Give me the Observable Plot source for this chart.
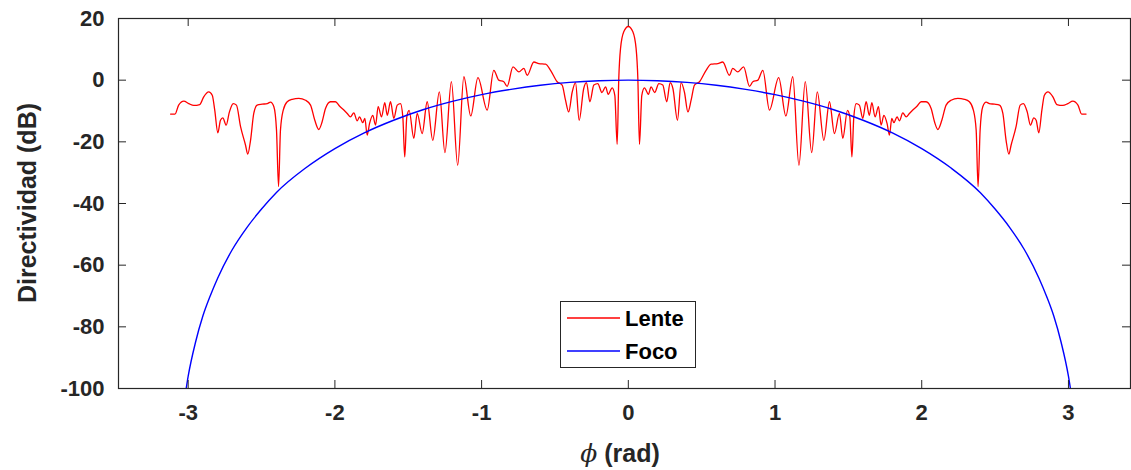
<!DOCTYPE html>
<html>
<head>
<meta charset="utf-8">
<script src="https://cdn.jsdelivr.net/npm/d3@7"></script>
<script src="https://cdn.jsdelivr.net/npm/@observablehq/plot@0.6"></script>
<style>
  html, body { margin: 0; padding: 0; background: #fff; }
  svg { display: block; }
</style>
</head>
<body>
<div id="chart"></div>
<script>
// ---- Data ----
const xTicks = [-3, -2, -1, 0, 1, 2, 3];
const yTicks = [-100, -80, -60, -40, -20, 0, 20];

// "Lente" (red) – angle in rad
const lentePhi = [
  -3.12,-3.09,-3.065,-3.03,-2.996,-2.962,-2.921,-2.894,-2.86,-2.836,-2.819,-2.798,-2.78,-2.764,-2.741,-2.719,-2.693,-2.671,-2.643,-2.609,
  -2.594,-2.575,-2.553,-2.53,-2.496,-2.461,-2.439,-2.416,-2.398,-2.384,-2.371,-2.352,-2.325,-2.291,-2.246,-2.2,-2.166,-2.137,-2.11,-2.087,
  -2.064,-2.03,-1.996,-1.969,-1.939,-1.916,-1.894,-1.871,-1.848,-1.832,-1.81,-1.796,-1.78,-1.764,-1.742,-1.723,-1.705,-1.682,-1.66,-1.643,
  -1.621,-1.598,-1.575,-1.553,-1.537,-1.524,-1.51,-1.494,-1.462,-1.439,-1.405,-1.371,-1.333,-1.288,-1.25,-1.206,-1.163,-1.121,-1.074,-1.025,
  -0.962,-0.917,-0.883,-0.849,-0.826,-0.786,-0.746,-0.712,-0.689,-0.644,-0.61,-0.564,-0.53,-0.485,-0.451,-0.428,-0.406,-0.383,-0.36,-0.335,
  -0.304,-0.285,-0.262,-0.235,-0.208,-0.18,-0.155,-0.137,-0.11,-0.092,-0.076,-0.065,-0.053,-0.031,
  0,
  0.031,0.053,0.065,0.076,0.092,0.11,0.137,0.155,0.18,0.208,0.235,0.262,0.285,0.304,0.335,0.36,0.383,0.406,0.428,0.451,
  0.485,0.53,0.564,0.61,0.644,0.689,0.712,0.746,0.786,0.826,0.849,0.883,0.917,0.962,1.025,1.074,1.121,1.163,1.206,1.25,
  1.288,1.333,1.371,1.405,1.439,1.462,1.494,1.51,1.524,1.537,1.553,1.575,1.598,1.621,1.643,1.66,1.682,1.705,1.723,1.742,
  1.764,1.78,1.796,1.81,1.832,1.848,1.871,1.894,1.916,1.939,1.969,1.996,2.03,2.064,2.087,2.11,2.137,2.166,2.2,2.246,
  2.291,2.325,2.352,2.371,2.384,2.398,2.416,2.439,2.461,2.496,2.53,2.553,2.575,2.594,2.609,2.643,2.671,2.693,2.719,2.741,
  2.764,2.78,2.798,2.819,2.836,2.86,2.894,2.921,2.962,2.996,3.03,3.065,3.09,3.12
];
// "Lente" (red) – directivity in dB
const lenteDb = [
  -11.0,-11.0,-8.1,-6.8,-7.6,-8.2,-7.9,-5.4,-3.8,-4.9,-9.7,-17.1,-13.0,-12.2,-14.6,-10.3,-7.6,-8.1,-15.1,-21.1,
  -24.0,-19.5,-10.8,-8.1,-7.8,-7.6,-7.1,-8.6,-16.2,-34.5,-16.2,-9.7,-7.0,-6.2,-5.9,-6.5,-8.1,-13.0,-16.0,-13.5,
  -9.2,-7.0,-7.0,-8.4,-9.7,-10.8,-11.9,-10.6,-13.2,-11.9,-13.8,-12.4,-17.8,-14.1,-11.4,-14.6,-8.6,-11.9,-7.3,-11.4,
  -7.0,-12.4,-8.1,-7.6,-11.9,-24.9,-12.0,-9.8,-18.9,-10.8,-17.3,-7.0,-19.5,-3.8,-23.5,-0.5,-27.6,1.1,-11.6,0.8,
  -9.7,3.2,0.0,-0.5,-2.0,4.3,2.7,3.8,1.6,5.9,5.4,5.2,3.2,-0.5,-1.6,-6.5,-10.3,-4.0,-0.8,-13.0,
  -2.7,-0.8,-7.0,-1.6,-1.1,-4.0,-2.2,-4.6,-2.5,-4.9,-20.8,0.5,10.3,15.7,
  17.4,
  15.7,10.3,0.5,-20.8,-4.9,-2.5,-4.6,-2.2,-4.0,-1.1,-1.6,-7.0,-0.8,-2.7,-13.0,-0.8,-4.0,-10.3,-6.5,-1.6,
  -0.5,3.2,5.2,5.4,5.9,1.6,3.8,2.7,4.3,-2.0,-0.5,0.0,3.2,-9.7,0.8,-11.6,1.1,-27.6,-0.5,-23.5,
  -3.8,-19.5,-7.0,-17.3,-10.8,-18.9,-9.8,-12.0,-24.9,-11.9,-7.6,-8.1,-12.4,-7.0,-11.4,-7.3,-11.9,-8.6,-14.6,-11.4,
  -14.1,-17.8,-12.4,-13.8,-11.9,-13.2,-10.6,-11.9,-10.8,-9.7,-8.4,-7.0,-7.0,-9.2,-13.5,-16.0,-13.0,-8.1,-6.5,-5.9,
  -6.2,-7.0,-9.7,-16.2,-34.5,-16.2,-8.6,-7.1,-7.6,-7.8,-8.1,-10.8,-19.5,-24.0,-21.1,-15.1,-8.1,-7.6,-10.3,-14.6,
  -12.2,-13.0,-17.1,-9.7,-4.9,-3.8,-5.4,-7.9,-8.2,-7.6,-6.8,-8.1,-11.0,-11.0
];

// "Foco" (blue)
const focoPhi = [
  -3.02,-3.0,-2.95,-2.9,-2.85,-2.8,-2.7,-2.6,-2.5,-2.4,-2.2,-2.0,-1.8,-1.6,-1.4,-1.2,-1.0,-0.8,-0.6,-0.4,-0.2,
  0,
  0.2,0.4,0.6,0.8,1.0,1.2,1.4,1.6,1.8,2.0,2.2,2.4,2.5,2.6,2.7,2.8,2.85,2.9,2.95,3.0,3.02
];
const focoDb = [
  -102,-96,-85,-76.5,-70,-64.3,-55,-47.8,-41.8,-36.5,-28.5,-22.2,-17.1,-13.0,-9.6,-6.9,-4.7,-3.0,-1.65,-0.72,-0.18,
  0,
  -0.18,-0.72,-1.65,-3.0,-4.7,-6.9,-9.6,-13.0,-17.1,-22.2,-28.5,-36.5,-41.8,-47.8,-55,-64.3,-70,-76.5,-85,-96,-102
];

const seriesNames = ["Lente", "Foco"];
const seriesColors = ["#ff0000", "#0000ff"];

// ---- Build tables ----
const lente = lentePhi.map((p, i) => ({phi: p, db: lenteDb[i]}));
const foco = focoPhi.map((p, i) => ({phi: p, db: focoDb[i]}));

const xDomain = [-3.475, 3.423];
const yDomain = [-100, 20];
const W = 1131, H = 470;
const mL = 118, mR = 1, mT = 18, mB = 82;
const ink = "#262626";
const font = "'Liberation Sans', Arial, Helvetica, sans-serif";

// inward tick length, 8 px, expressed in data units
const tickDy = 8 * (yDomain[1] - yDomain[0]) / (H - mT - mB);
const tickDx = 8 * (xDomain[1] - xDomain[0]) / (W - mL - mR);

const chart = Plot.plot({
  width: W, height: H,
  marginLeft: mL, marginRight: mR, marginTop: mT, marginBottom: mB,
  style: {fontFamily: font, fontSize: "22px", fontWeight: "bold", color: ink, background: "#fff", overflow: "visible"},
  x: {domain: xDomain, label: null},
  y: {domain: yDomain, label: null},
  marks: [
    Plot.line(lente, {x: "phi", y: "db", stroke: seriesColors[0], strokeWidth: 1.3, curve: "monotone-x", clip: true}),
    Plot.line(foco, {x: "phi", y: "db", stroke: seriesColors[1], strokeWidth: 1.4, curve: "monotone-x", clip: true}),
    Plot.axisX(xTicks, {tickSize: 0, tickPadding: 16, tickFormat: d => String(d), fontSize: 22, fontWeight: "bold", fill: ink, label: null}),
    Plot.axisY(yTicks, {tickSize: 0, tickPadding: 14, tickFormat: d => String(d), fontSize: 22, fontWeight: "bold", fill: ink, label: null}),
    Plot.ruleX(xTicks, {x: d => d, y1: yDomain[0], y2: yDomain[0] + tickDy, stroke: ink}),
    Plot.ruleX(xTicks, {x: d => d, y1: yDomain[1], y2: yDomain[1] - tickDy, stroke: ink}),
    Plot.ruleY(yTicks, {y: d => d, x1: xDomain[0], x2: xDomain[0] + tickDx, stroke: ink}),
    Plot.ruleY(yTicks, {y: d => d, x1: xDomain[1], x2: xDomain[1] - tickDx, stroke: ink}),
    Plot.frame({stroke: ink, strokeWidth: 1.2})
  ]
});

document.getElementById("chart").appendChild(chart);
const svg = d3.select(chart);

// Axis titles
svg.append("text")
  .attr("transform", `translate(36, ${(mT + H - mB) / 2}) rotate(-90)`)
  .attr("text-anchor", "middle")
  .attr("font-family", font).attr("font-weight", "bold").attr("font-size", 25)
  .attr("fill", ink)
  .text("Directividad (dB)");

const xt = svg.append("text")
  .attr("x", mL + (W - mL - mR) / 2 - 4).attr("y", 462)
  .attr("text-anchor", "middle")
  .attr("fill", ink);
xt.append("tspan").attr("font-family", "'DejaVu Serif', 'Liberation Serif', serif").attr("font-style", "italic").attr("font-weight", "normal").attr("font-size", 25).text("ϕ");
xt.append("tspan").attr("font-family", font).attr("font-weight", "bold").attr("font-size", 25).text(" (rad)");

// Legend
const lg = svg.append("g");
lg.append("rect").attr("x", 560.5).attr("y", 301.5).attr("width", 135).attr("height", 66)
  .attr("fill", "#fff").attr("stroke", ink).attr("stroke-width", 1);
seriesNames.forEach((name, i) => {
  const y = 318 + i * 33;
  lg.append("line").attr("x1", 567).attr("x2", 620).attr("y1", y).attr("y2", y)
    .attr("stroke", seriesColors[i]).attr("stroke-width", 1.3);
  lg.append("text").attr("x", 625).attr("y", y).attr("dy", "0.36em")
    .attr("text-anchor", "start")
    .attr("font-family", font).attr("font-weight", "bold").attr("font-size", 22)
    .attr("fill", "#000").text(name);
});
</script>
</body>
</html>
